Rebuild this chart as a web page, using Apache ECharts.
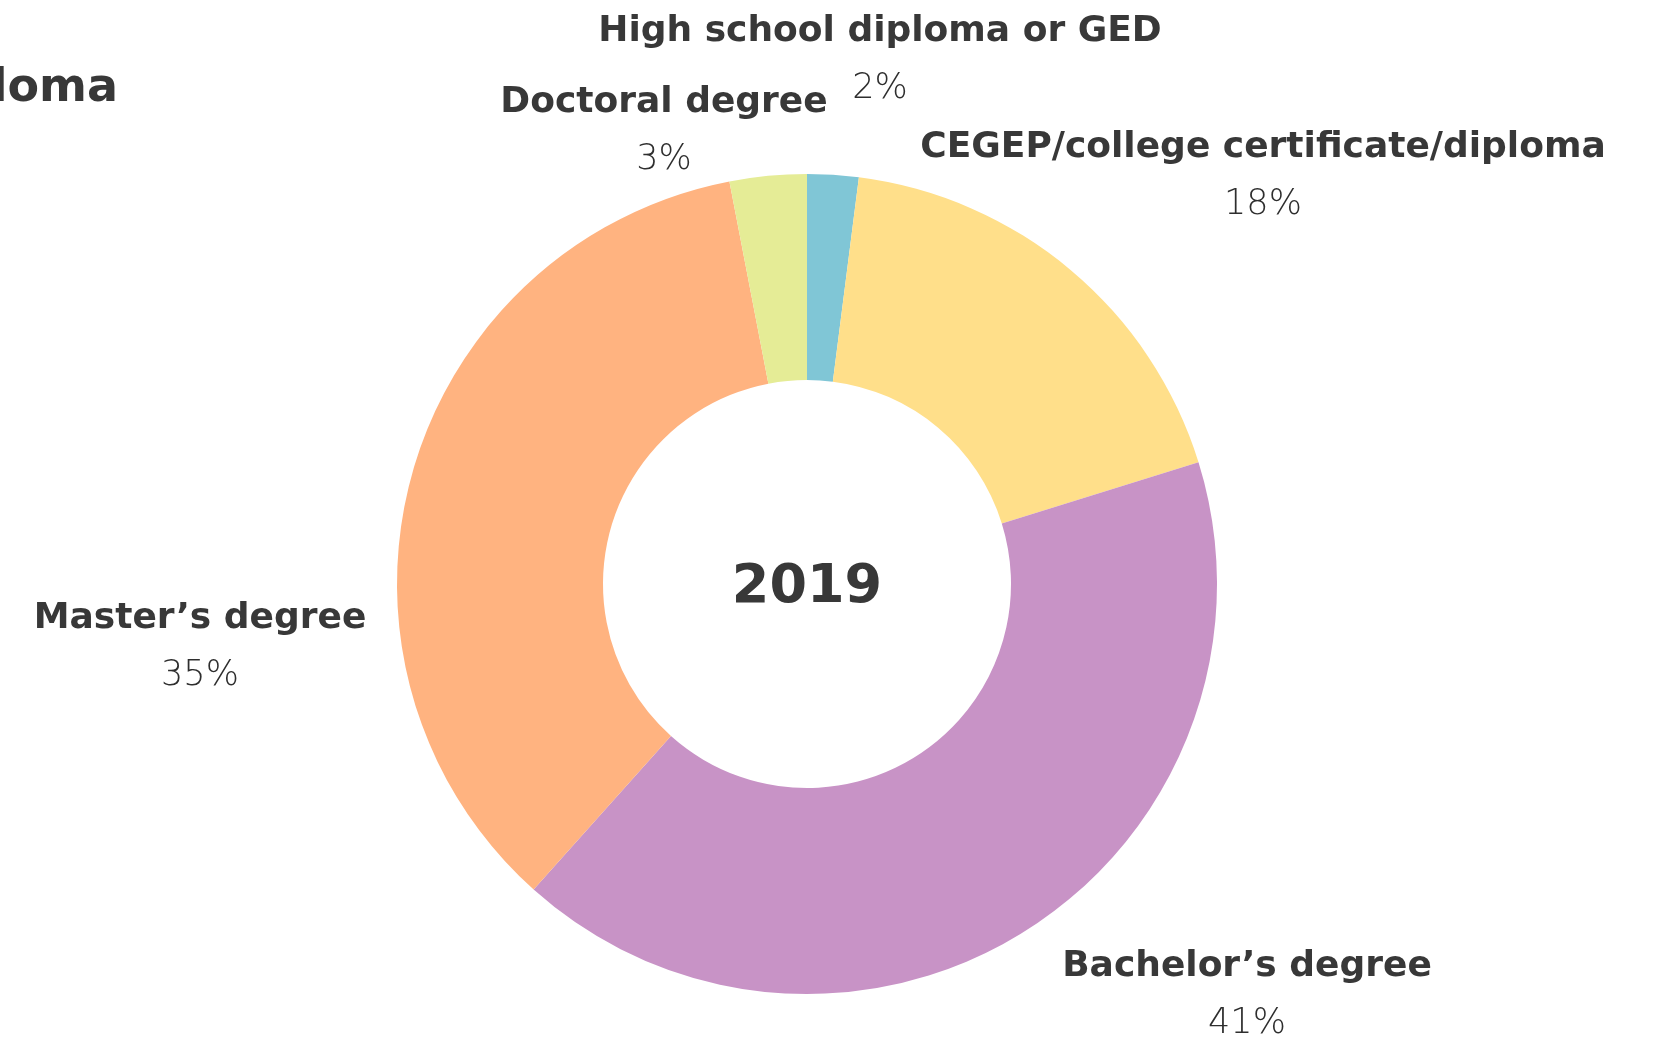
<!DOCTYPE html>
<html>
<head>
<meta charset="utf-8">
<title>Education levels, 2019</title>
<script src="https://cdn.jsdelivr.net/npm/echarts@6/dist/echarts.min.js"></script>
<style>
  html, body { margin: 0; padding: 0; background: #ffffff; }
  #chart { width: 1660px; height: 1042px; }
</style>
</head>
<body>
<div id="chart"></div>
<script>
// Share of respondents by highest level of education, 2019 (percent)
const categories = [
  'High school diploma or GED',
  'CEGEP/college certificate/diploma',
  'Bachelor\u2019s degree',
  'Master\u2019s degree',
  'Doctoral degree'
];
const shares = [2, 18, 41, 35, 3];
const sliceColors = ['#80C6D6', '#FFDF8A', '#C893C6', '#FFB380', '#E5EC96'];
const yearLabel = '2019';
const titleText = 'diploma';

// Where each two-line label sits (centre of the text block)
const labelSpots = [
  [880, 60],
  [1263, 176],
  [1247, 995],
  [200, 647],
  [664, 131]
];

const FONT = '"DejaVu Sans", "Open Sans", sans-serif';
const INK = '#383838';

const chart = echarts.init(document.getElementById('chart'), null, { renderer: 'canvas' });

chart.setOption({
  animation: false,
  backgroundColor: '#ffffff',
  graphic: [
    {
      type: 'text',
      x: 118,
      y: 89,
      style: {
        text: titleText,
        font: 'bold 46px ' + FONT,
        fill: INK,
        textAlign: 'right',
        textVerticalAlign: 'middle'
      }
    },
    {
      type: 'text',
      x: 807,
      y: 588,
      style: {
        text: yearLabel,
        font: 'bold 54px ' + FONT,
        fill: INK,
        textAlign: 'center',
        textVerticalAlign: 'middle'
      }
    }
  ],
  series: [{
    type: 'pie',
    center: [807, 584],
    radius: [204, 410],
    startAngle: 90,
    clockwise: true,
    avoidLabelOverlap: false,
    emphasis: { disabled: true },
    itemStyle: { borderWidth: 0 },
    data: categories.map((name, i) => ({
      name: name,
      value: shares[i],
      itemStyle: { color: sliceColors[i] }
    })),
    label: {
      show: true,
      position: 'outside',
      formatter: '{n|{b}}\n{v|{c}%}',
      rich: {
        n: { fontFamily: FONT, fontWeight: 'bold', fontSize: 36, color: INK, lineHeight: 57, align: 'center' },
        v: { fontFamily: FONT, fontWeight: 200, fontSize: 35, color: '#2e2e2e', lineHeight: 57, align: 'center' }
      }
    },
    labelLine: { show: false },
    labelLayout: function (params) {
      const p = labelSpots[params.dataIndex];
      return { x: p[0], y: p[1], align: 'center', verticalAlign: 'middle' };
    }
  }]
});
</script>
</body>
</html>
